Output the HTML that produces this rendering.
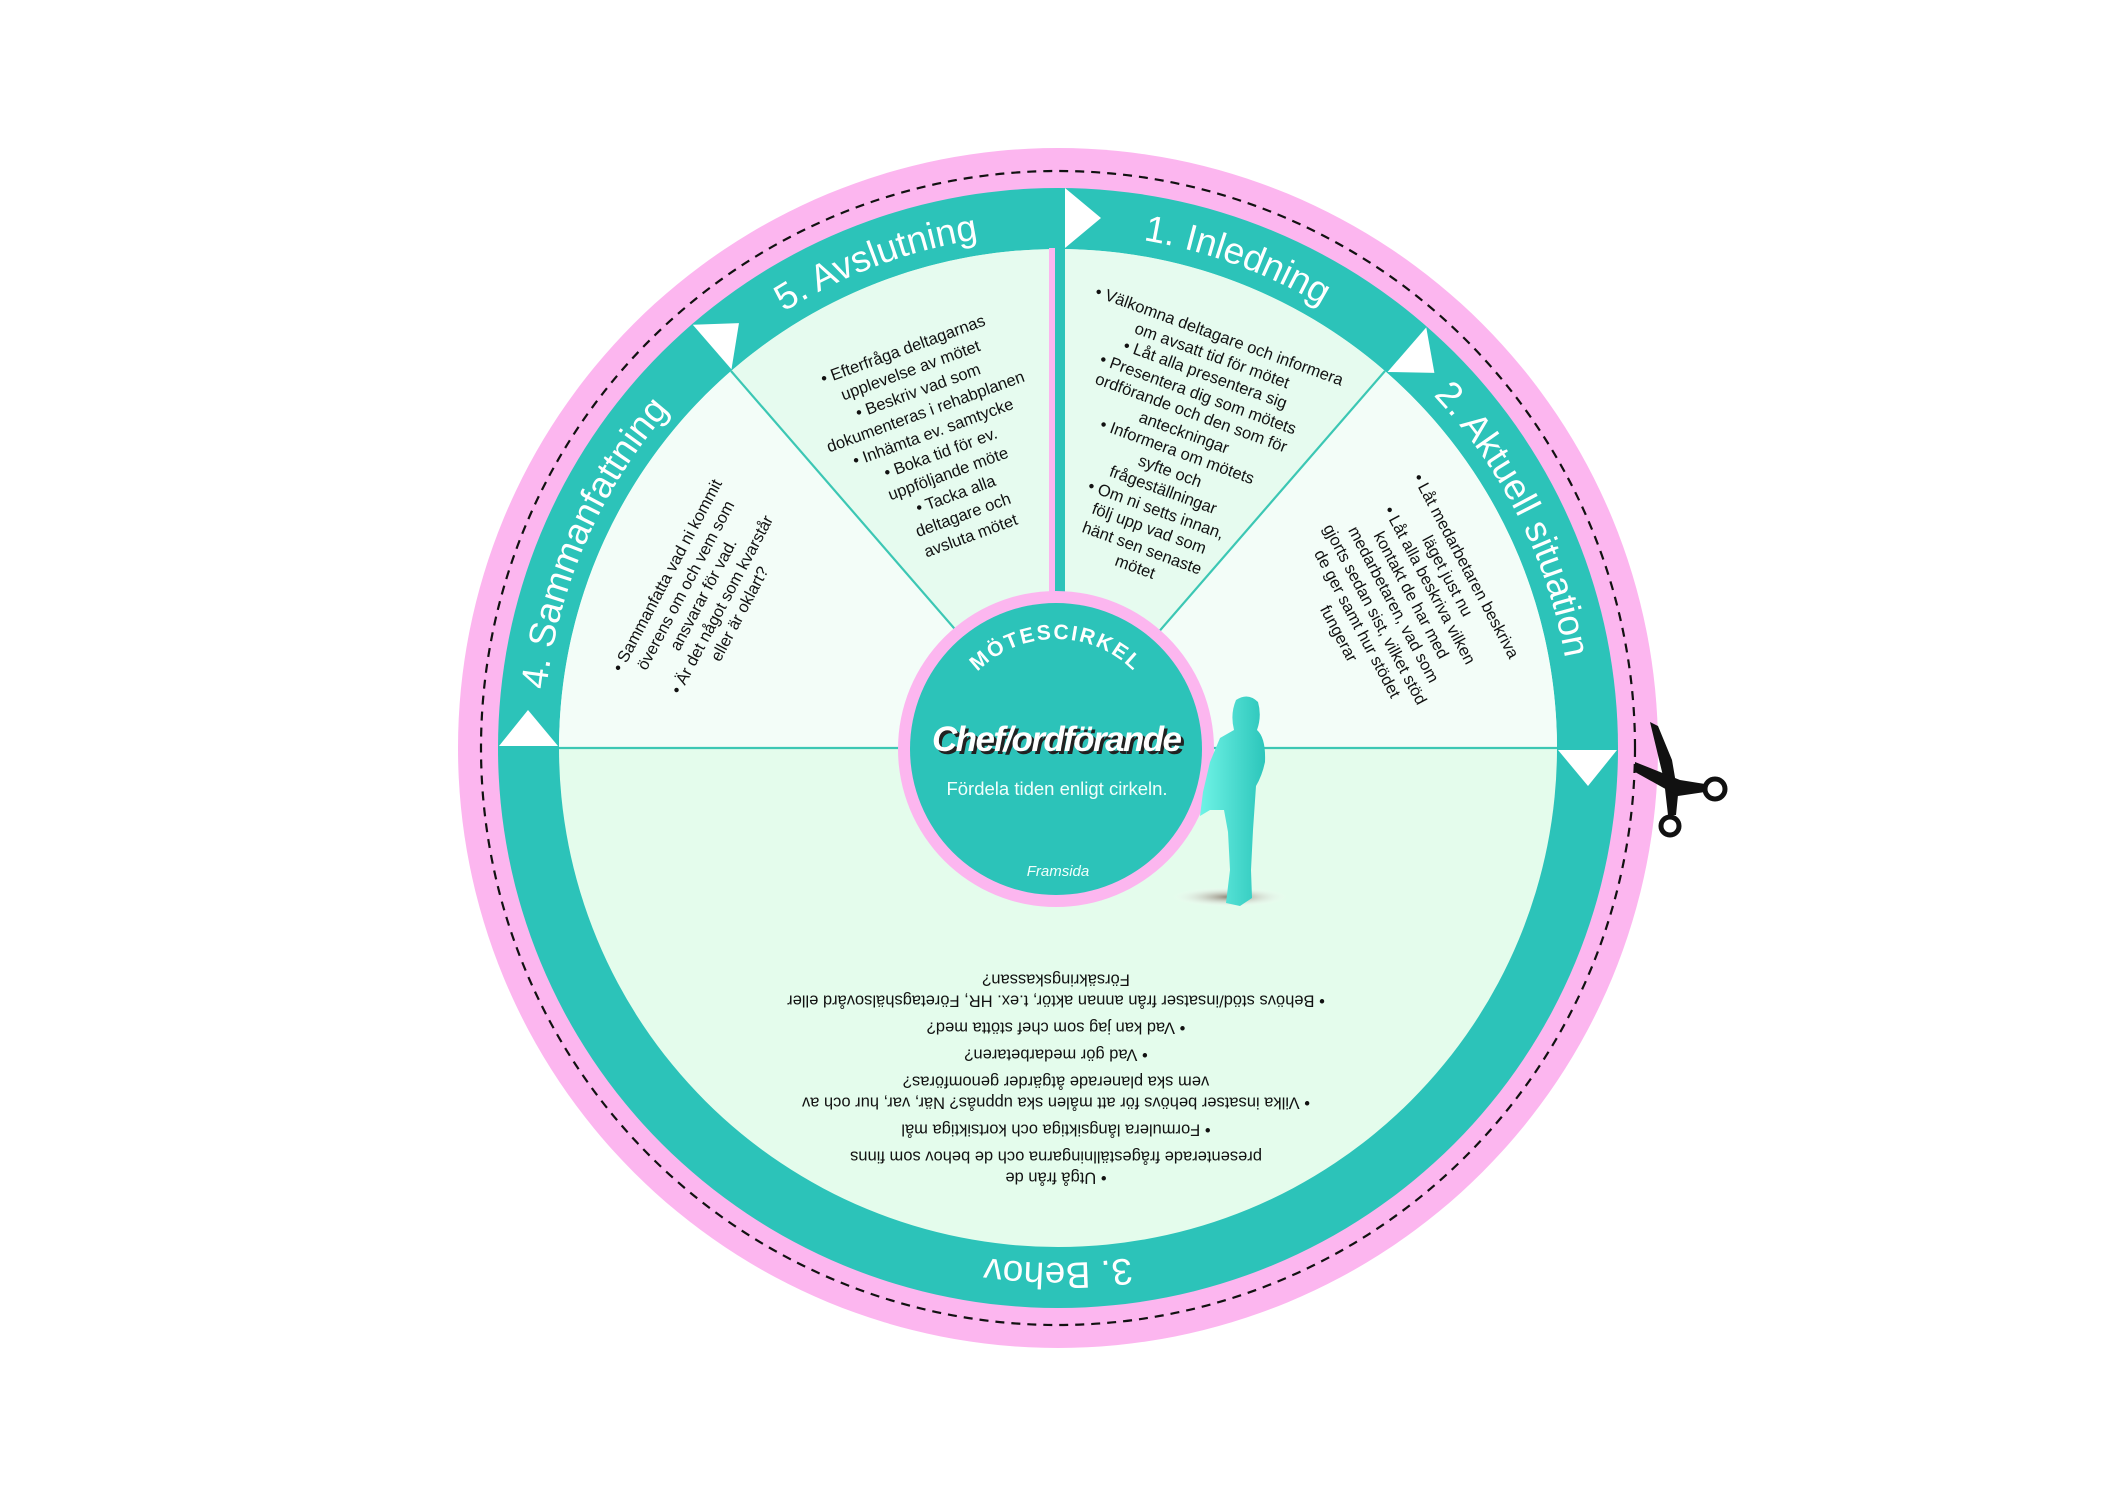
<!DOCTYPE html>
<html><head><meta charset="utf-8">
<style>
html,body{margin:0;padding:0;background:#fff;}
body{width:2117px;height:1497px;position:relative;overflow:hidden;font-family:"Liberation Sans",sans-serif;}
svg{position:absolute;left:0;top:0;}
.t{position:absolute;transform-origin:center;text-align:center;font-size:16.5px;line-height:20.5px;color:#111;white-space:nowrap;}
.t p{margin:0;}
</style></head><body>
<svg width="2117" height="1497" viewBox="0 0 2117 1497">
<defs>
<linearGradient id="wg" x1="0" x2="1" y1="0" y2="0"><stop offset="0" stop-color="#6ff3e6"/><stop offset="1" stop-color="#2cc6bb"/></linearGradient>
<radialGradient id="sh"><stop offset="0" stop-color="#8a7f70"/><stop offset="1" stop-color="#fff" stop-opacity="0"/></radialGradient>
<path id="ring" d="M543,748 A515,515 0 1 1 1573,748 A515,515 0 1 1 543,748"/>
<path id="inner" d="M946,749 A110,110 0 1 1 1166,749 A110,110 0 1 1 946,749"/>
</defs>
<circle cx="1058" cy="748" r="600" fill="#fcb6ef"/>
<circle cx="1058" cy="748" r="577" fill="none" stroke="#111" stroke-width="2.2" stroke-dasharray="9 7"/>
<circle cx="1058" cy="748" r="560" fill="#2cc3b9"/>
<circle cx="1058" cy="748" r="499" fill="#e4fcec"/>
<path d="M1058,748 L1557,748 A499,499 0 0 0 1385,371 Z" fill="#f3fdf8"/>
<path d="M1058,748 L1385,371 A499,499 0 0 0 1058,249 Z" fill="#e6fbef"/>
<path d="M1058,748 L1058,249 A499,499 0 0 0 731,371 Z" fill="#e6fbef"/>
<path d="M1058,748 L731,371 A499,499 0 0 0 559,748 Z" fill="#f3fdf8"/>
<g stroke="#3cc7b4" stroke-width="2.2">
<line x1="559" y1="748" x2="1557" y2="748"/>
<line x1="1058" y1="748" x2="1385" y2="371"/>
<line x1="1058" y1="748" x2="731" y2="371"/>
</g>
<rect x="1049" y="248" width="6" height="360" fill="#fcb6ef"/>
<rect x="1055" y="248" width="10" height="360" fill="#2cc3b9"/>
<g fill="#fff">
<polygon points="1065,188 1065,248 1101,218"/>
<polygon points="1060,189 1060,248 1096,218" transform="rotate(41 1058 748)"/>
<polygon points="1060,189 1060,248 1096,218" transform="rotate(90 1058 748)"/>
<polygon points="1060,189 1060,248 1096,218" transform="rotate(-41 1058 748)"/>
<polygon points="1060,189 1060,248 1096,218" transform="rotate(-90 1058 748)"/>
</g>
<g font-family="Liberation Sans, sans-serif" font-size="37" fill="#fff">
<text><textPath href="#ring" startOffset="30.6%" text-anchor="middle">1. Inledning</textPath></text>
<text><textPath href="#ring" startOffset="19.3%" text-anchor="middle">5. Avslutning</textPath></text>
<text><textPath href="#ring" startOffset="42.6%" text-anchor="middle">2. Aktuell situation</textPath></text>
<text><textPath href="#ring" startOffset="6.6%" text-anchor="middle">4. Sammanfattning</textPath></text>
<text><textPath href="#ring" startOffset="75%" text-anchor="middle">3. Behov</textPath></text>
</g>
<circle cx="1056" cy="749" r="158" fill="#fcb6ef"/>
<circle cx="1056" cy="749" r="146" fill="#2cc3b9"/>
<text font-family="Liberation Sans, sans-serif" font-size="21" font-weight="bold" fill="#fff" letter-spacing="2"><textPath href="#inner" startOffset="25%" text-anchor="middle">MÖTESCIRKEL</textPath></text>
<text x="1060" y="754" text-anchor="middle" font-family="Liberation Sans, sans-serif" font-size="35" font-weight="bold" font-style="italic" fill="#222" textLength="250">Chef/ordförande</text>
<text x="1057" y="751" text-anchor="middle" font-family="Liberation Sans, sans-serif" font-size="35" font-weight="bold" font-style="italic" fill="#fff" textLength="250">Chef/ordförande</text>
<text x="1057" y="795" text-anchor="middle" font-family="Liberation Sans, sans-serif" font-size="18.5" fill="#f2fffc">Fördela tiden enligt cirkeln.</text>
<text x="1058" y="876" text-anchor="middle" font-family="Liberation Sans, sans-serif" font-size="15" font-style="italic" fill="#f2fffc">Framsida</text>
<ellipse cx="1230" cy="897" rx="58" ry="10" fill="url(#sh)"/>
<path d="M1236,700 Q1248,692 1258,702 Q1262,716 1257,730 Q1266,738 1265,762 Q1262,776 1256,786 L1253,830 L1251,870 L1252,898 L1240,906 L1226,903 L1230,870 L1228,832 L1224,810 L1210,810 L1200,816 L1203,792 L1210,762 L1220,738 L1234,730 Q1230,714 1236,700 Z" fill="url(#wg)"/>
<g fill="#111">
<polygon points="1650,722 1658,726 1672,760 1678,795 1676,815 1668,815 1664,780"/>
<polygon points="1635,762 1680,780 1705,784 1705,792 1678,796 1635,772"/>
</g>
<circle cx="1715" cy="789" r="10" fill="#fff" stroke="#111" stroke-width="5"/>
<circle cx="1670" cy="826" r="9" fill="#fff" stroke="#111" stroke-width="5"/>
</svg>

<div class="t" style="left:1177px;top:452px;transform:translate(-50%,-50%) rotate(20deg);">
<p>• Välkomna deltagare och informera<br>om avsatt tid för mötet</p>
<p>• Låt alla presentera sig</p>
<p>• Presentera dig som mötets<br>ordförande och den som för<br>anteckningar</p>
<p>• Informera om mötets<br>syfte och<br>frågeställningar</p>
<p>• Om ni setts innan,<br>följ upp vad som<br>hänt sen senaste<br>mötet</p>
</div>
<div class="t" style="left:937px;top:443px;transform:translate(-50%,-50%) rotate(-20deg);line-height:22px;">
<p>• Efterfråga deltagarnas<br>upplevelse av mötet</p>
<p>• Beskriv vad som<br>dokumenteras i rehabplanen</p>
<p>• Inhämta ev. samtycke</p>
<p>• Boka tid för ev.<br>uppföljande möte</p>
<p>• Tacka alla<br>deltagare och<br>avsluta mötet</p>
</div>
<div class="t" style="left:1402px;top:600px;transform:translate(-50%,-50%) rotate(62deg);">
<p>• Låt medarbetaren beskriva<br>läget just nu</p>
<p>• Låt alla beskriva vilken<br>kontakt de har med<br>medarbetaren, vad som<br>gjorts sedan sist, vilket stöd<br>de ger samt hur stödet<br>fungerar</p>
</div>
<div class="t" style="left:704px;top:595px;transform:translate(-50%,-50%) rotate(-62deg);">
<p>• Sammanfatta vad ni kommit<br>överens om och vem som<br>ansvarar för vad.</p>
<p>• Är det något som kvarstår<br>eller är oklart?</p>
</div>
<div class="t" style="left:1056px;top:1078px;transform:translate(-50%,-50%) rotate(180deg);font-size:16.5px;line-height:21px;">
<p style="margin-bottom:6px">• Utgå från de<br>presenterade frågeställningarna och de behov som finns</p>
<p style="margin-bottom:6px">• Formulera långsiktiga och kortsiktiga mål</p>
<p style="margin-bottom:6px">• Vilka insatser behövs för att målen ska uppnås? När, var, hur och av<br>vem ska planerade åtgärder genomföras?</p>
<p style="margin-bottom:6px">• Vad gör medarbetaren?</p>
<p style="margin-bottom:6px">• Vad kan jag som chef stötta med?</p>
<p>• Behövs stöd/insatser från annan aktör, t.ex. HR, Företagshälsovård eller<br>Försäkringskassan?</p>
</div>
</body></html>
